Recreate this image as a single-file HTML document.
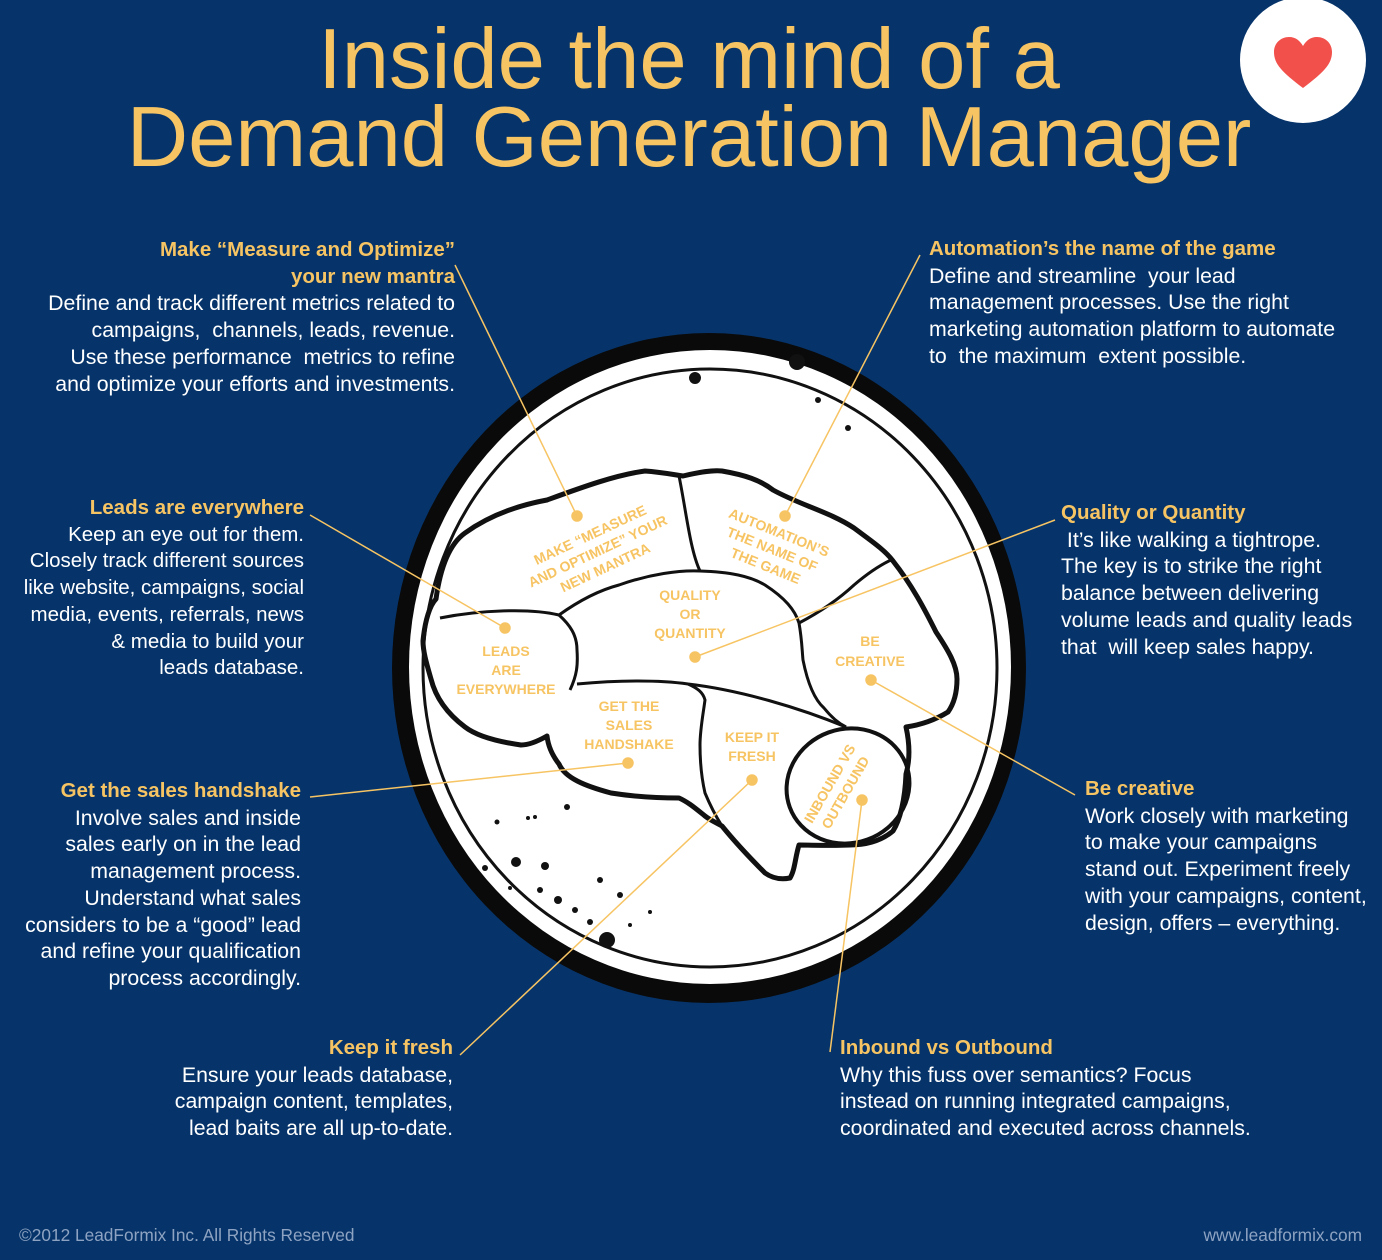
<!DOCTYPE html>
<html><head><meta charset="utf-8"><style>
body{margin:0;width:1382px;height:1260px;background:#06346a;overflow:hidden;position:relative;font-family:"Liberation Sans",sans-serif}
.t{position:absolute;color:#f7c463;text-align:center;width:1382px;left:0;font-size:85px;line-height:80px}
.b{position:absolute;color:#fff;font-size:21.3px;line-height:26.7px;white-space:nowrap}
.b h{display:block;color:#f7c463;font-weight:bold;font-size:20.5px}
.r{text-align:right}
.ft{position:absolute;color:#8ea3c2;font-size:17.3px;top:1225px}
</style></head><body>
<div class="t" style="top:20px;left:-2px">Inside the mind of a</div>
<div class="t" style="top:98px;left:-2px">Demand Generation Manager</div>
<div style="position:absolute;left:1240px;top:-3px;width:126px;height:126px;border-radius:50%;background:#fff"></div>
<svg style="position:absolute;left:1272px;top:36px" width="62" height="54" viewBox="0 0 62 54"><path d="M31 52 C10 36 2 28 2 16 C2 7 9 1 17 1 C24 1 28 5 31 10 C34 5 38 1 45 1 C53 1 60 7 60 16 C60 28 52 36 31 52Z" fill="#f2504b"/></svg>

<svg style="position:absolute;left:0;top:0" width="1382" height="1260">
<ellipse cx="709" cy="668" rx="317" ry="335" fill="#0a0a0a"/>
<ellipse cx="710" cy="667" rx="301" ry="317" fill="#fff"/>
<ellipse cx="710" cy="668" rx="287" ry="299" fill="none" stroke="#111" stroke-width="3"/>
<g fill="#111">
<circle cx="695" cy="378" r="6"/><circle cx="797" cy="362" r="8"/><circle cx="848" cy="428" r="3"/><circle cx="818" cy="400" r="3"/><circle cx="607" cy="940" r="8"/><circle cx="516" cy="862" r="5"/><circle cx="545" cy="866" r="4"/><circle cx="558" cy="900" r="4"/><circle cx="575" cy="910" r="3"/><circle cx="540" cy="890" r="3"/><circle cx="485" cy="868" r="3"/><circle cx="600" cy="880" r="3"/><circle cx="620" cy="895" r="3"/><circle cx="567" cy="807" r="3"/><circle cx="497" cy="822" r="2.5"/><circle cx="528" cy="818" r="2"/><circle cx="535" cy="817" r="2"/><circle cx="650" cy="912" r="2"/><circle cx="630" cy="925" r="2"/><circle cx="510" cy="888" r="2"/><circle cx="590" cy="922" r="3"/>
</g>
<g fill="none" stroke="#111" stroke-width="5" stroke-linejoin="round">
<path d="M423,641 C425,620 430,605 436,599 C440,570 448,545 465,533 C490,515 520,505 547,500 C580,488 615,475 645,471 C660,472 670,474 683,476 C700,472 712,470 722,471 C745,475 760,480 773,490 C800,505 830,512 854,528 C870,540 885,550 893,561 C912,585 925,610 936,632 C948,650 957,665 957,679 C957,695 953,705 948,712 C935,720 920,725 906,727 C910,745 910,760 906,774 C905,800 900,820 893,831 C880,842 865,845 850,845 C830,846 812,845 799,845 C795,858 795,870 790,878 C780,880 772,878 765,873 C750,858 735,842 722,826 C715,822 710,820 705,816 C695,808 688,802 679,798 C655,798 630,796 611,793 C585,786 565,778 559,764 C552,755 548,745 547,736 C540,740 530,745 521,745 C500,742 478,737 465,727 C445,712 435,695 431,679 C427,665 423,652 423,641Z"/>
</g>
<g fill="none" stroke="#111" stroke-width="3">
<path d="M679,476 C686,510 690,550 700,571"/>
<path d="M440,618 C480,610 530,608 559,615 C580,600 600,590 619,585 C650,574 680,570 700,571 C730,572 750,576 765,585 C785,598 795,610 799,623 C802,640 802,650 803,660 C808,685 815,700 824,708 C832,718 840,724 846,727"/>
<path d="M559,615 C570,625 577,635 577,650 C578,665 577,675 570,690"/>
<path d="M577,684 C620,680 660,680 688,684 C740,690 800,708 846,727"/>
<path d="M688,684 C697,688 703,692 705,700 C703,715 700,730 700,745 C700,765 702,780 705,793 C710,805 715,815 722,826"/>
<path d="M799,623 C820,612 840,598 854,585 C868,573 882,564 893,559"/>
<ellipse cx="848" cy="786" rx="62" ry="57" transform="rotate(-20 848 786)" stroke-width="4"/>
</g>
<g stroke="#f7c463" stroke-width="1.5" fill="#f7c463">
<line x1="455" y1="265" x2="577" y2="516"/><circle cx="577" cy="516" r="5"/>
<line x1="920" y1="255" x2="785" y2="516"/><circle cx="785" cy="516" r="5"/>
<line x1="310" y1="515" x2="505" y2="628"/><circle cx="505" cy="628" r="5"/>
<line x1="1055" y1="520" x2="695" y2="657"/><circle cx="695" cy="657" r="5"/>
<line x1="310" y1="797" x2="628" y2="763"/><circle cx="628" cy="763" r="5"/>
<line x1="460" y1="1055" x2="752" y2="780"/><circle cx="752" cy="780" r="5"/>
<line x1="1075" y1="795" x2="871" y2="680"/><circle cx="871" cy="680" r="5"/>
<line x1="830" y1="1052" x2="862" y2="800"/><circle cx="862" cy="800" r="5"/>
</g>
<g fill="#f7c463" font-family="Liberation Sans,sans-serif" font-size="14" font-weight="bold" text-anchor="middle">
<text transform="translate(598,552) rotate(-25)"><tspan x="0" y="-14">MAKE “MEASURE</tspan><tspan x="0" y="4">AND OPTIMIZE” YOUR</tspan><tspan x="0" y="22">NEW MANTRA</tspan></text>
<text transform="translate(772,550) rotate(22)"><tspan x="0" y="-14">AUTOMATION’S</tspan><tspan x="0" y="4">THE NAME OF</tspan><tspan x="0" y="22">THE GAME</tspan></text>
<text x="690" y="600">QUALITY</text><text x="690" y="619">OR</text><text x="690" y="638">QUANTITY</text>
<text x="506" y="656">LEADS</text><text x="506" y="675">ARE</text><text x="506" y="694">EVERYWHERE</text>
<text x="629" y="711">GET THE</text><text x="629" y="730">SALES</text><text x="629" y="749">HANDSHAKE</text>
<text x="752" y="742">KEEP IT</text><text x="752" y="761">FRESH</text>
<text x="870" y="646">BE</text><text x="870" y="666">CREATIVE</text>
<text transform="translate(834,786) rotate(-60)"><tspan x="0" y="0">INBOUND VS</tspan><tspan x="0" y="18">OUTBOUND</tspan></text>
</g>
</svg>

<div class="b r" style="right:927px;top:237px;width:440px"><h>Make “Measure and Optimize”<br>your new mantra</h>Define and track different metrics related to<br>campaigns, &nbsp;channels, leads, revenue.<br>Use these performance &nbsp;metrics to refine<br>and optimize your efforts and investments.</div>
<div class="b" style="left:929px;top:236px;width:440px"><h>Automation’s the name of the game</h>Define and streamline &nbsp;your lead<br>management processes. Use the right<br>marketing automation platform to automate<br>to &nbsp;the maximum &nbsp;extent possible.</div>
<div class="b r" style="right:1078px;top:495px;width:300px;font-size:20.5px"><h>Leads are everywhere</h>Keep an eye out for them.<br>Closely track different sources<br>like website, campaigns, social<br>media, events, referrals, news<br>&amp; media to build your<br>leads database.</div>
<div class="b" style="left:1061px;top:500px;width:320px"><h>Quality or Quantity</h>&nbsp;It’s like walking a tightrope.<br>The key is to strike the right<br>balance between delivering<br>volume leads and quality leads<br>that &nbsp;will keep sales happy.</div>
<div class="b r" style="right:1081px;top:778px;width:300px"><h>Get the sales handshake</h>Involve sales and inside<br>sales early on in the lead<br>management process.<br>Understand what sales<br>considers to be a “good” lead<br>and refine your qualification<br>process accordingly.</div>
<div class="b" style="left:1085px;top:776px;width:300px"><h>Be creative</h>Work closely with marketing<br>to make your campaigns<br>stand out. Experiment freely<br>with your campaigns, content,<br>design, offers – everything.</div>
<div class="b r" style="right:929px;top:1035px;width:300px"><h>Keep it fresh</h>Ensure your leads database,<br>campaign content, templates,<br>lead baits are all up-to-date.</div>
<div class="b" style="left:840px;top:1035px;width:420px"><h>Inbound vs Outbound</h>Why this fuss over semantics? Focus<br>instead on running integrated campaigns,<br>coordinated and executed across channels.</div>
<div class="ft" style="left:19px">©2012 LeadFormix Inc. All Rights Reserved</div>
<div class="ft" style="right:20px">www.leadformix.com</div>
</body></html>
